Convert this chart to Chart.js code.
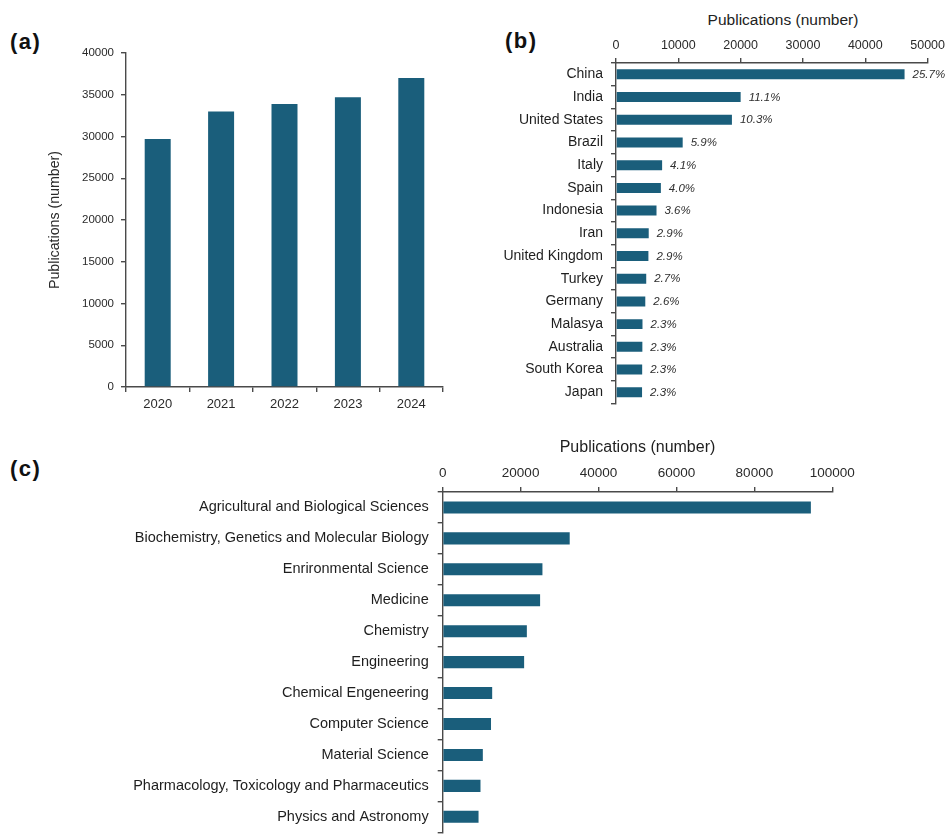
<!DOCTYPE html>
<html>
<head>
<meta charset="utf-8">
<script src="https://cdn.jsdelivr.net/npm/chart.js@4.4.1/dist/chart.umd.min.js"></script>
<style>
  html, body { margin: 0; padding: 0; width: 950px; height: 840px; overflow: hidden; background: #ffffff; }
  .panel { position: absolute; }
  .tag { position: absolute; font: bold 22px "Liberation Sans", Arial, sans-serif; line-height: 1; letter-spacing: 1.5px; color: #111; }
  .axis-title { position: absolute; font: 15.5px "Liberation Sans", Arial, sans-serif; line-height: 1; color: #222; white-space: nowrap; transform: translateX(-50%); }
</style>
</head>
<body>

<div class="tag" style="left:10px; top:30.5px;">(a)</div>
<div class="tag" style="left:505px; top:29.5px;">(b)</div>
<div class="tag" style="left:10px; top:458px;">(c)</div>
<div class="axis-title" style="left:783px; top:12px;">Publications (number)</div>

<canvas id="chartYears" class="panel" width="460" height="430" style="left:0; top:0; width:460px; height:430px;"></canvas>
<canvas id="chartCountries" class="panel" width="480" height="420" style="left:470px; top:0; width:480px; height:420px;"></canvas>
<canvas id="chartAreas" class="panel" width="950" height="420" style="left:0; top:430px; width:950px; height:420px;"></canvas>

<script>
// Publications per year
const years = ['2020', '2021', '2022', '2023', '2024'];
const yearCounts = [29700, 33000, 33900, 34700, 37000];
const yearTicks = [0, 5000, 10000, 15000, 20000, 25000, 30000, 35000, 40000];

// Top countries: publication counts and share of the total (%)
const countries = ['China', 'India', 'United States', 'Brazil', 'Italy', 'Spain', 'Indonesia', 'Iran',
  'United Kingdom', 'Turkey', 'Germany', 'Malasya', 'Australia', 'South Korea', 'Japan'];
const countryCounts = [46300, 20000, 18600, 10700, 7400, 7200, 6500, 5250, 5200, 4850, 4700, 4250, 4230, 4200, 4180];
const countryShare = [25.7, 11.1, 10.3, 5.9, 4.1, 4.0, 3.6, 2.9, 2.9, 2.7, 2.6, 2.3, 2.3, 2.3, 2.3];
const countryTicks = [0, 10000, 20000, 30000, 40000, 50000];

// Subject areas
const areas = ['Agricultural and Biological Sciences', 'Biochemistry, Genetics and Molecular Biology',
  'Enrironmental Science', 'Medicine', 'Chemistry', 'Engineering', 'Chemical Engeneering',
  'Computer Science', 'Material Science', 'Pharmacology, Toxicology and Pharmaceutics', 'Physics and Astronomy'];
const areaCounts = [94500, 32600, 25600, 25000, 21600, 20900, 12700, 12400, 10300, 9700, 9200];
const areaTicks = [0, 20000, 40000, 60000, 80000, 100000];

const BAR = '#1a5e7b';
const AXIS = '#4a4a4a';
const FONT = '"Liberation Sans", Arial, sans-serif';

Chart.defaults.font.family = FONT;
Chart.defaults.color = '#2a2a2a';
Chart.defaults.animation = false;

function axisGrid() {
  return { drawOnChartArea: false, tickLength: 5, color: AXIS, lineWidth: 1.4 };
}
function axisBorder() {
  return { display: true, color: AXIS, width: 1.4 };
}
function fixedTicks(list) {
  return (scale) => { scale.ticks = list.map(v => ({ value: v })); };
}
// plain integers, no thousands separator
const plain = (v) => String(v);

// Percent share written to the right of each country bar
const shareLabels = {
  id: 'shareLabels',
  afterDatasetsDraw(chart) {
    const { ctx } = chart;
    const meta = chart.getDatasetMeta(0);
    ctx.save();
    ctx.font = 'italic 11.5px ' + FONT;
    ctx.fillStyle = '#2e2e2e';
    ctx.textAlign = 'left';
    ctx.textBaseline = 'middle';
    meta.data.forEach((bar, i) => {
      ctx.fillText(countryShare[i].toFixed(1) + '%', bar.x + 8, bar.y + 0.5);
    });
    ctx.restore();
  }
};

new Chart(document.getElementById('chartYears'), {
  type: 'bar',
  data: {
    labels: years,
    datasets: [{ data: yearCounts, backgroundColor: BAR, barPercentage: 0.41, categoryPercentage: 1 }]
  },
  options: {
    responsive: false,
    layout: { padding: { left: 0, right: 17, top: 53, bottom: 0 } },
    plugins: { legend: { display: false }, tooltip: { enabled: false } },
    scales: {
      x: {
        grid: Object.assign(axisGrid(), { offset: true }),
        border: axisBorder(),
        ticks: { font: { size: 13 }, color: '#2a2a2a', padding: 5 },
        afterFit(s) { s.height = 43; }
      },
      y: {
        min: 0, max: 40000,
        afterBuildTicks: fixedTicks(yearTicks),
        grid: axisGrid(),
        border: axisBorder(),
        ticks: { font: { size: 11.5 }, color: '#2a2a2a', padding: 7, callback: plain },
        title: { display: true, text: 'Publications (number)', font: { size: 14.2 }, color: '#2a2a2a', padding: { top: 47, bottom: 0 } },
        afterFit(s) { s.width = 126; }
      }
    }
  }
});

new Chart(document.getElementById('chartCountries'), {
  type: 'bar',
  data: {
    labels: countries,
    datasets: [{ data: countryCounts, backgroundColor: BAR, barPercentage: 0.44, categoryPercentage: 1 }]
  },
  options: {
    indexAxis: 'y',
    responsive: false,
    layout: { padding: { left: 0, right: 21, top: 0, bottom: 15 } },
    plugins: { legend: { display: false }, tooltip: { enabled: false } },
    scales: {
      x: {
        position: 'top',
        min: 0, max: 50000,
        afterBuildTicks: fixedTicks(countryTicks),
        grid: axisGrid(),
        border: axisBorder(),
        ticks: { font: { size: 12.5 }, color: '#2a2a2a', padding: 5, callback: plain },
        afterFit(s) { s.height = 63; }
      },
      y: {
        grid: Object.assign(axisGrid(), { offset: true }),
        border: axisBorder(),
        ticks: { font: { size: 14 }, color: '#1e1e1e', padding: 8 },
        afterFit(s) { s.width = 146; }
      }
    }
  },
  plugins: [shareLabels]
});

new Chart(document.getElementById('chartAreas'), {
  type: 'bar',
  data: {
    labels: areas,
    datasets: [{ data: areaCounts, backgroundColor: BAR, barPercentage: 0.39, categoryPercentage: 1 }]
  },
  options: {
    indexAxis: 'y',
    responsive: false,
    layout: { padding: { left: 0, right: 117.7, top: 0, bottom: 6 } },
    plugins: { legend: { display: false }, tooltip: { enabled: false } },
    scales: {
      x: {
        position: 'top',
        min: 0, max: 100000,
        afterBuildTicks: fixedTicks(areaTicks),
        grid: axisGrid(),
        border: axisBorder(),
        ticks: { font: { size: 13.5 }, color: '#2a2a2a', padding: 6, callback: plain },
        title: { display: true, text: 'Publications (number)', font: { size: 16 }, color: '#1e1e1e', padding: { top: 8, bottom: 0 } },
        afterFit(s) { s.height = 62; }
      },
      y: {
        grid: Object.assign(axisGrid(), { offset: true }),
        border: axisBorder(),
        ticks: { font: { size: 14.5 }, color: '#1e1e1e', padding: 9 },
        afterFit(s) { s.width = 442.7; }
      }
    }
  }
});
</script>
</body>
</html>
